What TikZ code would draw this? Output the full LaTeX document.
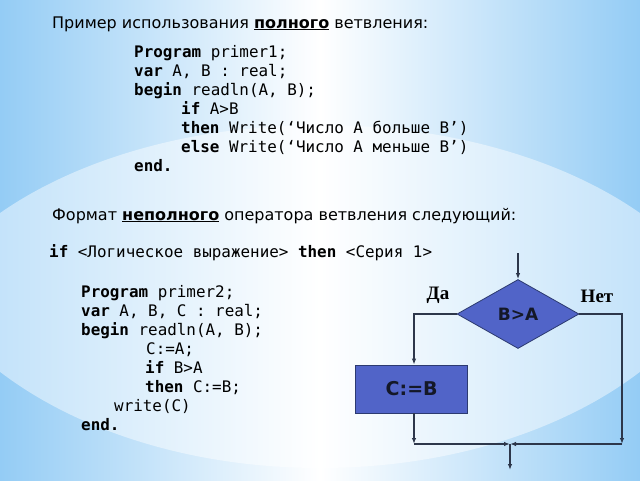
\documentclass[tikz,border=0pt]{standalone}
\usepackage{fontspec}
\setmainfont{DejaVu Sans}
\newfontfamily\monof{DejaVu Sans Mono}
\newfontfamily\serbf{Liberation Serif}
\usetikzlibrary{shapes.geometric,arrows.meta,calc}
\definecolor{bgblue}{RGB}{148,204,245}
\definecolor{shapefill}{RGB}{81,100,200}
\definecolor{shapeedge}{RGB}{44,58,112}
\definecolor{linec}{RGB}{45,55,75}
\definecolor{txtdark}{RGB}{20,24,40}
\tikzset{
  para/.style={anchor=base west, inner sep=0pt, font=\fontsize{16}{19}\selectfont},
  codeline/.style={anchor=base west, inner sep=0pt, font=\monof\fontsize{15.9}{19}\selectfont},
  decision/.style={diamond, draw=shapeedge, fill=shapefill, line width=0.8pt, minimum width=122pt, minimum height=69pt, inner sep=0pt, aspect=1.77, font=\bfseries\fontsize{17}{20}\selectfont, text=txtdark},
  procbox/.style={rectangle, draw=shapeedge, fill=shapefill, line width=0.8pt, minimum width=112pt, minimum height=48pt, inner sep=0pt, font=\bfseries\fontsize{19}{22}\selectfont, text=txtdark},
  lbl/.style={anchor=base, inner sep=0pt, font=\serbf\bfseries\fontsize{19}{22}\selectfont},
  flow/.style={draw=linec, line width=1.2pt},
  arr/.style={-{Latex[length=6pt,width=4.5pt]}}
}
\begin{document}
\begin{tikzpicture}[x=1pt,y=-1pt]
\useasboundingbox (0,0) rectangle (640,480);
% background
\shade[left color=bgblue, right color=bgblue, middle color=white] (0,0) rectangle (640,480);
\begin{scope}
  \clip (320,375) ellipse [x radius=420, y radius=250];
  \clip (320,195) ellipse [x radius=420, y radius=273];
  \shade[left color=bgblue!55!white, right color=bgblue!55!white, middle color=white] (0,0) rectangle (640,480);
\end{scope}
% texts
\node[para] (h1) at (52,28) {Пример использования \underline{\textbf{полного}} ветвления:};
\node[codeline] (c1a) at (134,57.5) {\textbf{Program} primer1;};
\node[codeline] (c1b) at (134,76.5) {\textbf{var} A, B : real;};
\node[codeline] (c1c) at (134,95.5) {\textbf{begin} readln(A, B);};
\node[codeline] (c1d) at (181,114.5) {\textbf{if} A>B};
\node[codeline] (c1e) at (181,133.5) {\textbf{then} Write(‘Число A больше B’)};
\node[codeline] (c1f) at (181,152.5) {\textbf{else} Write(‘Число A меньше B’)};
\node[codeline] (c1g) at (134,171.5) {\textbf{end.}};
\node[para] (h2) at (52,220) {Формат \underline{\textbf{неполного}} оператора ветвления следующий:};
\node[codeline] (fmt) at (49,257) {\textbf{if} <Логическое выражение> \textbf{then} <Серия 1>};
\node[codeline] (c2a) at (81,297) {\textbf{Program} primer2;};
\node[codeline] (c2b) at (81,316) {\textbf{var} A, B, C : real;};
\node[codeline] (c2c) at (81,335) {\textbf{begin} readln(A, B);};
\node[codeline] (c2d) at (146,354) {C:=A;};
\node[codeline] (c2e) at (145,373) {\textbf{if} B>A};
\node[codeline] (c2f) at (145,392) {\textbf{then} C:=B;};
\node[codeline] (c2g) at (114,411) {write(C)};
\node[codeline] (c2h) at (81,430) {\textbf{end.}};
% flowchart
\node[decision] (dec) at (518,314) {B>A};
\node[procbox] (asg) at (411.7,389) {C:=B};
\node[lbl] (da) at (438,299.5) {Да};
\node[lbl] (net) at (597,302.5) {Нет};
\coordinate (start) at (518,253);
\coordinate (lt) at (414,314);
\coordinate (rt) at (622,314);
\coordinate (lb) at (414,444);
\coordinate (rb) at (622,444);
\coordinate (mid) at (510,444);
\coordinate (endp) at (510,470);
\draw[flow,arr] (start) -- (dec.north);
\draw[flow,arr] (dec.west) -- (lt) -- (lt |- asg.north);
\draw[flow,arr] (lt |- asg.south) -- (lb);
\draw[flow,arr] (dec.east) -- (rt) -- (rb);
\draw[flow,arr] (lb) -- (mid);
\draw[flow,arr] (rb) -- (mid);
\draw[flow,arr] (mid) -- (endp);
\end{tikzpicture}
\end{document}
